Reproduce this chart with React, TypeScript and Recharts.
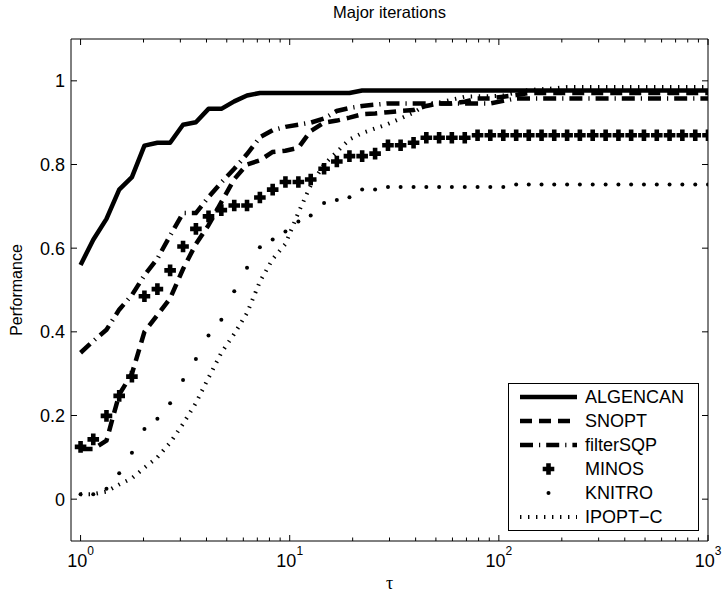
import React from 'react';
import { LineChart, Line, XAxis, YAxis, Legend } from 'recharts';

// performance ratio grid (log spaced, 1 .. 1000)
const tau = [
  1, 1.15, 1.33, 1.53, 1.76, 2.02, 2.33, 2.68, 3.09, 3.56,
  4.09, 4.71, 5.43, 6.25, 7.2, 8.29, 9.54, 11.0, 12.6, 14.6,
  16.8, 19.3, 22.2, 25.6, 29.5, 33.9, 39.1, 45.0, 51.8, 59.6,
  68.7, 79.1, 91.0, 105, 121, 139, 160, 184, 212, 244,
  281, 324, 373, 429, 494, 569, 655, 754, 869, 1000,
];

const algencan = [
  0.56, 0.62, 0.67, 0.74, 0.77, 0.845, 0.852, 0.852, 0.895, 0.901,
  0.933, 0.933, 0.951, 0.965, 0.971, 0.971, 0.971, 0.971, 0.971, 0.971,
  0.971, 0.971, 0.977, 0.977, 0.977, 0.977, 0.977, 0.977, 0.977, 0.977,
  0.977, 0.977, 0.977, 0.977, 0.977, 0.977, 0.977, 0.977, 0.977, 0.977,
  0.977, 0.977, 0.977, 0.977, 0.977, 0.977, 0.977, 0.977, 0.977, 0.977,
];

const snopt = [
  0.12, 0.12, 0.14, 0.25, 0.30, 0.40, 0.44, 0.48, 0.55, 0.61,
  0.655, 0.71, 0.765, 0.80, 0.81, 0.83, 0.833, 0.84, 0.88, 0.90,
  0.905, 0.912, 0.92, 0.922, 0.925, 0.928, 0.93, 0.94, 0.946, 0.946,
  0.95, 0.958, 0.958, 0.962, 0.966, 0.971, 0.971, 0.971, 0.971, 0.971,
  0.971, 0.971, 0.971, 0.971, 0.971, 0.971, 0.971, 0.971, 0.971, 0.971,
];

const filterSqp = [
  0.35, 0.378, 0.405, 0.453, 0.488, 0.535, 0.575, 0.63, 0.684, 0.684,
  0.722, 0.757, 0.79, 0.825, 0.865, 0.882, 0.89, 0.895, 0.90, 0.91,
  0.928, 0.935, 0.94, 0.943, 0.946, 0.946, 0.946, 0.946, 0.946, 0.946,
  0.946, 0.946, 0.946, 0.952, 0.958, 0.958, 0.958, 0.958, 0.958, 0.958,
  0.958, 0.958, 0.958, 0.958, 0.958, 0.958, 0.958, 0.958, 0.958, 0.958,
];

const minos = [
  0.125, 0.143, 0.199, 0.247, 0.293, 0.485, 0.502, 0.547, 0.604, 0.646,
  0.676, 0.691, 0.702, 0.702, 0.721, 0.74, 0.758, 0.758, 0.764, 0.79,
  0.807, 0.82, 0.82, 0.826, 0.846, 0.846, 0.852, 0.864, 0.864, 0.864,
  0.864, 0.87, 0.87, 0.87, 0.87, 0.87, 0.87, 0.87, 0.87, 0.87,
  0.87, 0.87, 0.87, 0.87, 0.87, 0.87, 0.87, 0.87, 0.87, 0.87,
];

const knitro = [
  0.012, 0.012, 0.025, 0.062, 0.111, 0.168, 0.192, 0.229, 0.285, 0.335,
  0.391, 0.429, 0.497, 0.553, 0.602, 0.621, 0.64, 0.664, 0.678, 0.708,
  0.715, 0.722, 0.74, 0.74, 0.746, 0.746, 0.746, 0.746, 0.746, 0.746,
  0.746, 0.746, 0.746, 0.746, 0.752, 0.752, 0.752, 0.752, 0.752, 0.752,
  0.752, 0.752, 0.752, 0.752, 0.752, 0.752, 0.752, 0.752, 0.752, 0.752,
];

const ipoptC = [
  0.012, 0.012, 0.018, 0.035, 0.05, 0.075, 0.10, 0.135, 0.18, 0.23,
  0.29, 0.35, 0.395, 0.445, 0.52, 0.574, 0.61, 0.685, 0.75, 0.80,
  0.83, 0.86, 0.875, 0.886, 0.897, 0.91, 0.924, 0.943, 0.948, 0.955,
  0.962, 0.963, 0.963, 0.965, 0.972, 0.978, 0.98, 0.982, 0.985, 0.985,
  0.985, 0.985, 0.985, 0.985, 0.985, 0.985, 0.985, 0.985, 0.985, 0.985,
];

const xTicks = [
  1, 2, 3, 4, 5, 6, 7, 8, 9,
  10, 20, 30, 40, 50, 60, 70, 80, 90,
  100, 200, 300, 400, 500, 600, 700, 800, 900, 1000,
];
const yTicks = [0, 0.2, 0.4, 0.6, 0.8, 1];

const FONT = '"Liberation Sans", Arial, Helvetica, sans-serif';

const data = tau.map((t, i) => ({
  tau: t,
  algencan: algencan[i],
  snopt: snopt[i],
  filterSqp: filterSqp[i],
  minos: minos[i],
  knitro: knitro[i],
  ipoptC: ipoptC[i],
}));

type Series = { key: string; name: string; kind: 'line' | 'plus' | 'dot'; dash?: string; width?: number };

const series: Series[] = [
  { key: 'algencan', name: 'ALGENCAN', kind: 'line', width: 4.5 },
  { key: 'snopt', name: 'SNOPT', kind: 'line', dash: '12 7', width: 4.5 },
  { key: 'filterSqp', name: 'filterSQP', kind: 'line', dash: '13 6 1.2 6', width: 4.5 },
  { key: 'minos', name: 'MINOS', kind: 'plus' },
  { key: 'knitro', name: 'KNITRO', kind: 'dot' },
  { key: 'ipoptC', name: 'IPOPT\u2212C', kind: 'line', dash: '1.4 6.6', width: 4 },
];

function plusPath(cx: number, cy: number) {
  const a = 5.8, b = 2.3;
  const c = a - b;
  return `M${cx - b},${cy - a}h${2 * b}v${c}h${c}v${2 * b}h${-c}v${c}h${-2 * b}v${-c}h${-c}v${-2 * b}h${c}z`;
}

const renderPlus = (p: any) => {
  if (p.cx == null || p.cy == null) return <g key={`p-${p.index}`} />;
  return <path key={`p-${p.index}`} d={plusPath(p.cx, p.cy)} fill="#000" />;
};

const renderDot = (p: any) => {
  if (p.cx == null || p.cy == null) return <g key={`d-${p.index}`} />;
  return <circle key={`d-${p.index}`} cx={p.cx} cy={p.cy} r={2} fill="#000" />;
};

function XTick(props: any) {
  const { x, y, payload, side } = props;
  const e = Math.log10(payload.value);
  const major = Math.abs(e - Math.round(e)) < 1e-6;
  const len = major ? 6 : 3.5;
  const dir = side === 'top' ? 1 : -1;
  return (
    <g>
      <line x1={x} y1={y} x2={x} y2={y + dir * len} stroke="#000" strokeWidth={1} />
      {side !== 'top' && major && (
        <text x={x} y={y + 26} textAnchor="middle" fontSize={18} fontFamily={FONT} fill="#000">
          10<tspan dy={-12} fontSize={12}>{Math.round(e)}</tspan>
        </text>
      )}
    </g>
  );
}

function YTick(props: any) {
  const { x, y, payload, side } = props;
  const dir = side === 'right' ? -1 : 1;
  return (
    <g>
      <line x1={x} y1={y} x2={x + dir * 6} y2={y} stroke="#000" strokeWidth={1} />
      {side !== 'right' && (
        <text x={x - 6} y={y} dy="0.36em" textAnchor="end" fontSize={18} fontFamily={FONT} fill="#000">
          {String(payload.value)}
        </text>
      )}
    </g>
  );
}

function TitleLabel(props: any) {
  const vb = props.viewBox || {};
  return (
    <text x={vb.x + vb.width / 2} y={18} textAnchor="middle" fontSize={16.5} fontFamily={FONT} fill="#000">
      Major iterations
    </text>
  );
}

function TauLabel(props: any) {
  const vb = props.viewBox || {};
  return (
    <text x={vb.x + vb.width / 2} y={vb.y + 48} textAnchor="middle" fontSize={18} fontFamily='"Liberation Serif", "DejaVu Serif", serif' fill="#000">
      τ
    </text>
  );
}

function PerfLabel(props: any) {
  const vb = props.viewBox || {};
  const cx = 22;
  const cy = vb.y + vb.height / 2;
  return (
    <text x={cx} y={cy} transform={`rotate(-90, ${cx}, ${cy})`} textAnchor="middle" fontSize={16} fontFamily={FONT} fill="#000">
      Performance
    </text>
  );
}

function LegendBox() {
  const top = 14;
  const rowH = 24;
  return (
    <svg width={191} height={148} style={{ display: 'block' }}>
      <rect x={0.5} y={0.5} width={190} height={147} fill="#fff" stroke="#000" strokeWidth={1} />
      {series.map((s, i) => {
        const cy = top + i * rowH;
        return (
          <g key={s.key}>
            {s.kind === 'line' && (
              <line x1={12} x2={69} y1={cy} y2={cy} stroke="#000" strokeWidth={s.width} strokeDasharray={s.dash} />
            )}
            {s.kind === 'plus' && <path d={plusPath(40.5, cy)} fill="#000" />}
            {s.kind === 'dot' && <circle cx={40.5} cy={cy} r={2} fill="#000" />}
            <text x={77} y={cy} dy="0.36em" fontSize={18} fontFamily={FONT} fill="#000">
              {s.name}
            </text>
          </g>
        );
      })}
    </svg>
  );
}

export default function App() {
  return (
    <div style={{ position: 'fixed', left: 0, top: 0, width: 723, height: 594, background: '#fff' }}>
      <LineChart width={723} height={594} data={data} margin={{ top: 38, right: 14, bottom: 0, left: 0 }}>
        <XAxis
          dataKey="tau"
          type="number"
          scale="log"
          domain={[0.9, 1000]}
          allowDataOverflow
          ticks={xTicks}
          interval={0}
          height={53}
          tickSize={0}
          tickMargin={0}
          tickLine={false}
          axisLine={{ stroke: '#000' }}
          tick={<XTick side="bottom" />}
          label={<TauLabel />}
        />
        <XAxis
          xAxisId="top"
          orientation="top"
          dataKey="tau"
          type="number"
          scale="log"
          domain={[0.9, 1000]}
          allowDataOverflow
          ticks={xTicks}
          interval={0}
          height={1}
          tickSize={0}
          tickMargin={0}
          tickLine={false}
          axisLine={{ stroke: '#000' }}
          tick={<XTick side="top" />}
          label={<TitleLabel />}
        />
        <YAxis
          type="number"
          domain={[-0.1, 1.1]}
          allowDataOverflow
          ticks={yTicks}
          interval={0}
          width={71}
          tickSize={0}
          tickMargin={0}
          tickLine={false}
          axisLine={{ stroke: '#000' }}
          tick={<YTick side="left" />}
          label={<PerfLabel />}
        />
        <YAxis
          yAxisId="right"
          orientation="right"
          type="number"
          domain={[-0.1, 1.1]}
          allowDataOverflow
          ticks={yTicks}
          interval={0}
          width={1}
          tickSize={0}
          tickMargin={0}
          tickLine={false}
          axisLine={{ stroke: '#000' }}
          tick={<YTick side="right" />}
        />
        <Line type="linear" dataKey="algencan" name="ALGENCAN" stroke="#000" strokeWidth={4.5} strokeLinejoin="round" dot={false} activeDot={false} isAnimationActive={false} />
        <Line type="linear" dataKey="snopt" name="SNOPT" stroke="#000" strokeWidth={4.5} strokeDasharray="12 7" dot={false} activeDot={false} isAnimationActive={false} />
        <Line type="linear" dataKey="filterSqp" name="filterSQP" stroke="#000" strokeWidth={4.5} strokeDasharray="13 6 1.2 6" dot={false} activeDot={false} isAnimationActive={false} />
        <Line type="linear" dataKey="minos" name="MINOS" stroke="none" dot={renderPlus} activeDot={false} isAnimationActive={false} />
        <Line type="linear" dataKey="knitro" name="KNITRO" stroke="none" dot={renderDot} activeDot={false} isAnimationActive={false} />
        <Line type="linear" dataKey="ipoptC" name={'IPOPT\u2212C'} stroke="#000" strokeWidth={4} strokeDasharray="1.4 6.6" dot={false} activeDot={false} isAnimationActive={false} />
        <Legend
          layout="vertical"
          align="center"
          verticalAlign="middle"
          content={() => <LegendBox />}
          wrapperStyle={{ left: 508, top: 383, width: 191, height: 148 }}
        />
      </LineChart>
    </div>
  );
}
